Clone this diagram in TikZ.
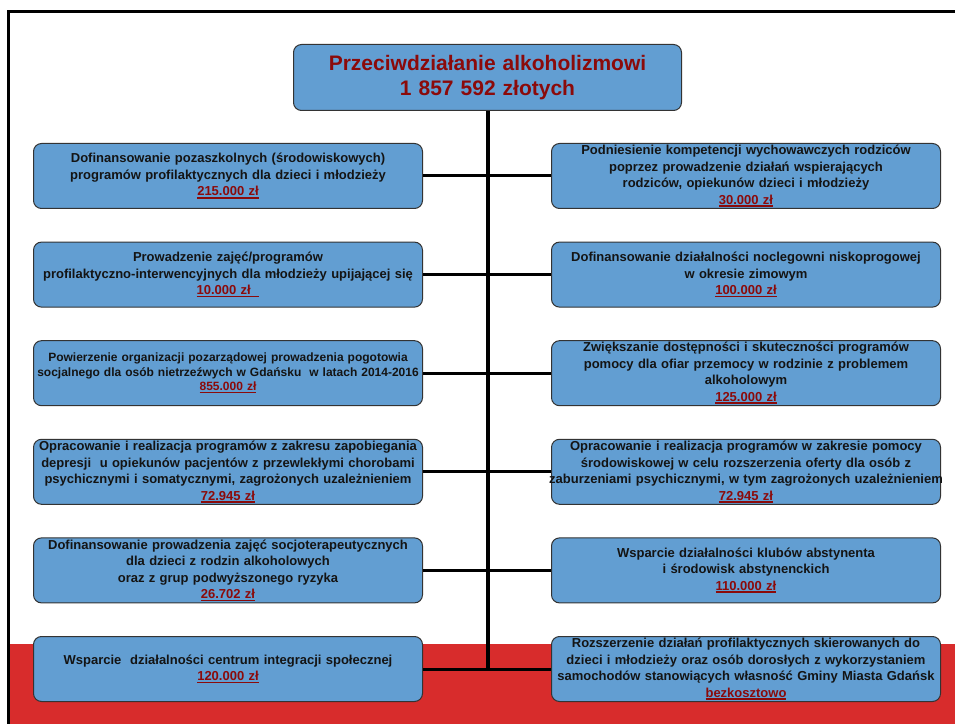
\documentclass[tikz,border=0pt]{standalone}
\usepackage{fontspec}
\setmainfont{Liberation Sans}
\usepackage{xcolor}
\usepackage{tikz}

\definecolor{boxblue}{HTML}{629ED2}
\definecolor{darkred}{HTML}{8B0A0A}
\definecolor{bandred}{HTML}{D82C2C}
\newcommand\kwota[1]{{\color{darkred}\setbox0\hbox{#1}\leavevmode\rlap{\rule[-2.6pt]{\wd0}{1.6pt}}\box0}}

\begin{document}
\begin{tikzpicture}[x=1pt,y=1pt,
  blk/.style={draw=black!80, line width=1pt, fill=boxblue, rounded corners=8pt, align=center, anchor=south west,
    text width=387pt, inner sep=1pt, minimum width=389pt, minimum height=65pt, text=black!92,
    font=\bfseries\fontsize{13}{16.5}\selectfont},
  ttl/.style={blk, text width=386pt, minimum width=388pt, minimum height=66pt, text=darkred,
    font=\bfseries\fontsize{21}{25}\selectfont},
  trunk/.style={line width=4pt, draw=black},
  link/.style={line width=3pt, draw=black},
]
\useasboundingbox (0,0) rectangle (955,724);
% background: red band and frame
\fill[bandred] (9.5,0) rectangle (955,80);
\draw[line width=3pt, line join=miter] (955,712.5) -- (8,712.5) -- (8,0);
% title
\node[ttl] (hd) at (293,613) {Przeciwdziałanie alkoholizmowi\\ 1 857 592 złotych};
% left column
\node[blk] (lf1) at (33,515) {Dofinansowanie pozaszkolnych (środowiskowych)\\ programów profilaktycznych dla dzieci i młodzieży\\ \kwota{215.000 zł}};
\node[blk] (lf2) at (33,416.4) {Prowadzenie zajęć/programów\\ profilaktyczno-interwencyjnych dla młodzieży upijającej się\\ \kwota{10.000 zł\ \ }};
\node[blk, font=\bfseries\fontsize{12}{14.5}\selectfont] (lf3) at (33,317.8) {Powierzenie organizacji pozarządowej prowadzenia pogotowia\\ socjalnego dla osób nietrzeźwych w Gdańsku\ \ w latach 2014-2016\\ \kwota{855.000 zł}};
\node[blk] (lf4) at (33,219.2) {Opracowanie i realizacja programów z zakresu zapobiegania\\ depresji\ \ u opiekunów pacjentów z przewlekłymi chorobami\\ psychicznymi i somatycznymi, zagrożonych uzależnieniem\\ \kwota{72.945 zł}};
\node[blk] (lf5) at (33,120.6) {Dofinansowanie prowadzenia zajęć socjoterapeutycznych\\ dla dzieci z rodzin alkoholowych\\ oraz z grup podwyższonego ryzyka\\ \kwota{26.702 zł}};
\node[blk] (lf6) at (33,22) {Wsparcie\ \ działalności centrum integracji społecznej\\ \kwota{120.000 zł}};
% right column
\node[blk] (rt1) at (551,515) {Podniesienie kompetencji wychowawczych rodziców\\ poprzez prowadzenie działań wspierających\\ rodziców, opiekunów dzieci i młodzieży\\ \kwota{30.000 zł}};
\node[blk] (rt2) at (551,416.4) {Dofinansowanie działalności noclegowni niskoprogowej\\ w okresie zimowym\\ \kwota{100.000 zł}};
\node[blk] (rt3) at (551,317.8) {Zwiększanie dostępności i skuteczności programów\\ pomocy dla ofiar przemocy w rodzinie z problemem\\ alkoholowym\\ \kwota{125.000 zł}};
\node[blk] (rt4) at (551,219.2) {Opracowanie i realizacja programów w zakresie pomocy\\ środowiskowej w celu rozszerzenia oferty dla osób z\\ \makebox[\linewidth]{zaburzeniami psychicznymi, w tym zagrożonych uzależnieniem}\\ \kwota{72.945 zł}};
\node[blk] (rt5) at (551,120.6) {Wsparcie działalności klubów abstynenta\\ i środowisk abstynenckich\\ \kwota{110.000 zł}};
\node[blk] (rt6) at (551,22) {Rozszerzenie działań profilaktycznych skierowanych do\\ dzieci i młodzieży oraz osób dorosłych z wykorzystaniem\\ samochodów stanowiących własność Gminy Miasta Gdańsk\\ \kwota{bezkosztowo}};
% trunk and branches
\draw[trunk] (hd.south) -- (hd.south |- lf6.east);
\draw[link] (lf1.east) -- (lf1.east -| hd.south);
\draw[link] (lf2.east) -- (lf2.east -| hd.south);
\draw[link] (lf3.east) -- (lf3.east -| hd.south);
\draw[link] (lf4.east) -- (lf4.east -| hd.south);
\draw[link] (lf5.east) -- (lf5.east -| hd.south);
\draw[link] (lf6.east) -- (lf6.east -| hd.south);
\draw[link] (rt1.west) -- (rt1.west -| hd.south);
\draw[link] (rt2.west) -- (rt2.west -| hd.south);
\draw[link] (rt3.west) -- (rt3.west -| hd.south);
\draw[link] (rt4.west) -- (rt4.west -| hd.south);
\draw[link] (rt5.west) -- (rt5.west -| hd.south);
\draw[link] (rt6.west) -- (rt6.west -| hd.south);
\end{tikzpicture}
\end{document}
